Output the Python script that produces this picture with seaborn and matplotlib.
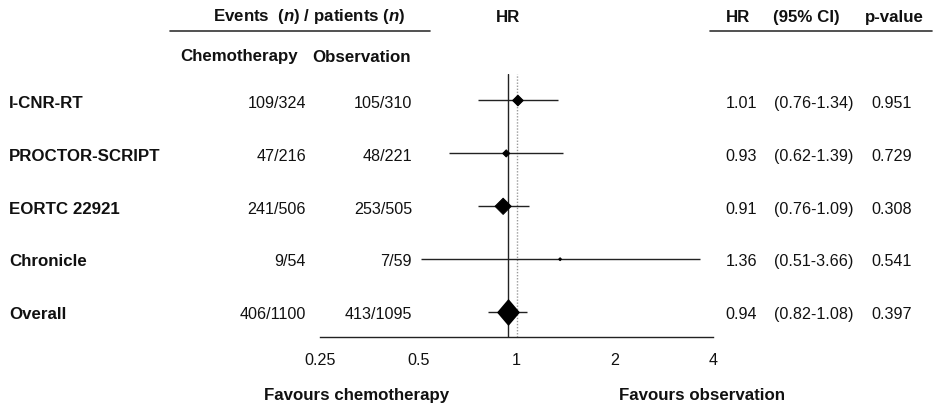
import numpy as np
import pandas as pd
import matplotlib
matplotlib.use("Agg")
import matplotlib.pyplot as plt
from matplotlib import transforms
from matplotlib.lines import Line2D
from matplotlib.path import Path
import seaborn as sns

# --- trial data -----------------------------------------------------------
studies = ["I-CNR-RT", "PROCTOR-SCRIPT", "EORTC 22921", "Chronicle", "Overall"]
chemo = ["109/324", "47/216", "241/506", "9/54", "406/1100"]
observation = ["105/310", "48/221", "253/505", "7/59", "413/1095"]
hr = [1.01, 0.93, 0.91, 1.36, 0.94]
ci_low = [0.76, 0.62, 0.76, 0.51, 0.82]
ci_high = [1.34, 1.39, 1.09, 3.66, 1.08]
p_values = ["0.951", "0.729", "0.308", "0.541", "0.397"]
tick_values = [0.25, 0.5, 1, 2, 4]
tick_labels = ["0.25", "0.5", "1", "2", "4"]

W, H = 936, 410
sns.set_style("white")
plt.rcParams["font.family"] = ["Liberation Sans", "DejaVu Sans"]
plt.rcParams["mathtext.fontset"] = "custom"
plt.rcParams["mathtext.it"] = "Liberation Sans:italic:bold"
plt.rcParams["mathtext.rm"] = "Liberation Sans:bold"

FS = 11.6
FSB = 12.2
INK = "#111111"
LINE = "#222222"

fig = plt.figure(figsize=(W / 100, H / 100), dpi=100)
fig.patch.set_facecolor("white")


def fx(px):
    return px / W


def fy(py):
    return 1 - py / H


# forest panel: x in log2 HR, one row per study
row0_px, row_step = 101.5, 52.9
ax_top, ax_bot = 75, 338
ax = fig.add_axes([fx(320), fy(ax_bot), (713 - 320) / W, (ax_bot - ax_top) / H])
ax.set_facecolor("none")

df = pd.DataFrame({
    "study": studies, "hr": hr, "lo": ci_low, "hi": ci_high,
    "row": np.arange(len(studies)),
})
# total events per trial sets the marker area
df["events"] = [int(a.split("/")[0]) + int(b.split("/")[0]) for a, b in zip(chemo, observation)]
trials = df.iloc[:-1]
overall = df.iloc[-1:]

ax.set_xscale("log", base=2)
ax.set_xlim(0.25, 4)
ax.set_ylim((ax_bot - row0_px) / row_step, (ax_top - row0_px) / row_step)

ax.axvline(1, color="#9a9a9a", lw=1.0, ls=(0, (1, 1.2)), zorder=1)
ax.axvline(overall["hr"].iloc[0], color=LINE, lw=1.0, zorder=1)

ax.hlines(df["row"], df["lo"], df["hi"], color=LINE, lw=1.0, zorder=2)

sns.scatterplot(data=trials, x="hr", y="row", size="events", sizes=(0, 68),
                size_norm=(0, trials["events"].max()), marker="D", color="black",
                edgecolor="black", linewidth=0.7, legend=False, ax=ax, zorder=3)

diamond = Path([(0, 1), (0.85, 0), (0, -1), (-0.85, 0), (0, 1)],
               [Path.MOVETO, Path.LINETO, Path.LINETO, Path.LINETO, Path.CLOSEPOLY])
sns.scatterplot(data=overall, x="hr", y="row", marker=diamond, s=377, color="black",
                linewidth=0, legend=False, ax=ax, zorder=3)

ax.set_xticks(tick_values)
ax.set_xticklabels(tick_labels)
ax.xaxis.set_minor_locator(matplotlib.ticker.NullLocator())
ax.tick_params(axis="x", which="major", direction="out", length=5.2, width=1.0,
               color=LINE, pad=5.5, labelsize=FS, labelcolor=INK)
ax.set_yticks([])
ax.set_xlabel("")
ax.set_ylabel("")
for side in ["top", "left", "right"]:
    ax.spines[side].set_visible(False)
ax.spines["bottom"].set_color(LINE)
ax.spines["bottom"].set_linewidth(1.0)

# --- table columns, aligned to the forest rows -------------------------------
row_tr = transforms.blended_transform_factory(fig.transFigure, ax.transData)
base = 6.3 / row_step  # baseline offset below the row centre
for r, (name, c, o, h, lo, hi, p) in enumerate(zip(studies, chemo, observation, hr,
                                                   ci_low, ci_high, p_values)):
    y = r + base
    fig.text(fx(9), y, name, transform=row_tr, ha="left", va="baseline",
             fontsize=FSB, fontweight="bold", color=INK)
    fig.text(fx(306), y, c, transform=row_tr, ha="right", va="baseline", fontsize=FS, color=INK)
    fig.text(fx(412), y, o, transform=row_tr, ha="right", va="baseline", fontsize=FS, color=INK)
    fig.text(fx(757), y, f"{h:.2f}", transform=row_tr, ha="right", va="baseline",
             fontsize=FS, color=INK)
    fig.text(fx(774), y, f"({lo:.2f}-{hi:.2f})", transform=row_tr, ha="left",
             va="baseline", fontsize=FS, color=INK)
    fig.text(fx(871), y, p, transform=row_tr, ha="left", va="baseline", fontsize=FS, color=INK)

# --- headers ---------------------------------------------------------------
hdr = dict(fontsize=FSB, fontweight="bold", color=INK, va="baseline", ha="center")
fig.text(fx(309), fy(21.5), r"Events  ($\mathit{n}$) / patients ($\mathit{n}$)", **hdr)
fig.text(fx(239), fy(61.5), "Chemotherapy", **hdr)
fig.text(fx(361.5), fy(61.5), "Observation", **hdr)
fig.text(fx(508), fy(22), "HR", **hdr)
fig.text(fx(738), fy(22), "HR", **hdr)
fig.text(fx(806.5), fy(22), "(95% CI)", **hdr)
fig.text(fx(894), fy(22), "p-value", **hdr)

for x0, x1 in [(170, 430), (710, 932)]:
    fig.add_artist(Line2D([fx(x0), fx(x1)], [fy(32), fy(32)], transform=fig.transFigure,
                          color="#333333", lw=1.2))

fig.text(fx(357), fy(400), "Favours chemotherapy", **hdr)
fig.text(fx(702), fy(400), "Favours observation", **hdr)

fig.savefig("out.png", dpi=100, facecolor="white")
